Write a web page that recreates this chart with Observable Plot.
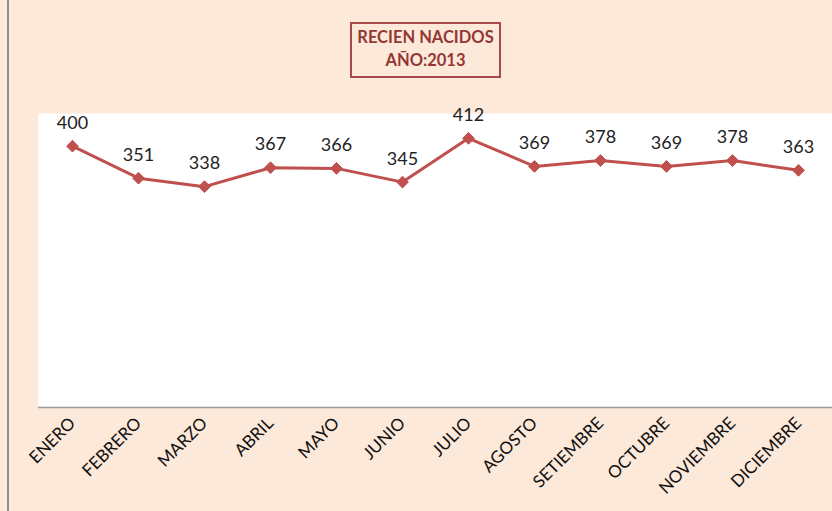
<!DOCTYPE html>
<html>
<head>
<meta charset="utf-8">
<script src="https://cdn.jsdelivr.net/npm/d3@7"></script>
<script src="https://cdn.jsdelivr.net/npm/@observablehq/plot@0.6"></script>
<style>
  body { margin: 0; background: #FDE9D9; }
  #wrap { position: relative; width: 832px; height: 511px; background: #FDE9D9; overflow: hidden; font-family: Lato, "Open Sans", sans-serif; }
  #edge { position: absolute; left: 7px; top: 0; width: 2px; height: 511px; background: #8c8c8c; }
  #title { position: absolute; left: 350px; top: 22px; width: 147px; height: 50px; border: 2px solid #A84A48;
           color: #953735; font-weight: bold; font-size: 16.5px; text-align: center; line-height: 23px; padding-top: 2px; box-sizing: content-box; }
  #title div { height: 23px; }
</style>
</head>
<body>
<div id="wrap">
  <div id="chart"></div>
  <div id="edge"></div>
  <div id="title"><div>RECIEN NACIDOS</div><div>AÑO:2013</div></div>
</div>
<script>
const months = ["ENERO","FEBRERO","MARZO","ABRIL","MAYO","JUNIO","JULIO","AGOSTO","SETIEMBRE","OCTUBRE","NOVIEMBRE","DICIEMBRE"];
const births = [400, 351, 338, 367, 366, 345, 412, 369, 378, 369, 378, 363];

const data = months.map((m, i) => ({month: m, value: births[i]}));

const chart = Plot.plot({
  width: 832,
  height: 511,
  marginLeft: 38,
  marginRight: 0,
  marginTop: 113,
  marginBottom: 104,
  style: {background: "transparent", fontFamily: "Lato, 'Open Sans', sans-serif", fontSize: "15px", color: "#111"},
  x: {type: "point", domain: months, padding: 0.5, label: null},
  y: {domain: [0, 450], axis: null},
  marks: [
    Plot.frame({fill: "white", stroke: null}),
    Plot.ruleY([0], {stroke: "#9a9a9a", strokeWidth: 1.5}),
    Plot.axisX({tickRotate: -45, tickSize: 0, tickPadding: 13, fontSize: 17, fill: "#111", label: null}),
    Plot.line(data, {x: "month", y: "value", stroke: "#C0504D", strokeWidth: 3}),
    Plot.dot(data, {x: "month", y: "value", symbol: "diamond2", r: 5.3, fill: "#C0504D", stroke: "#C0504D", strokeWidth: 1}),
    Plot.text(data, {x: "month", y: "value", text: d => String(d.value), dy: -23, fontSize: 18, fill: "#222"})
  ]
});
document.getElementById("chart").appendChild(chart);
</script>
</body>
</html>
